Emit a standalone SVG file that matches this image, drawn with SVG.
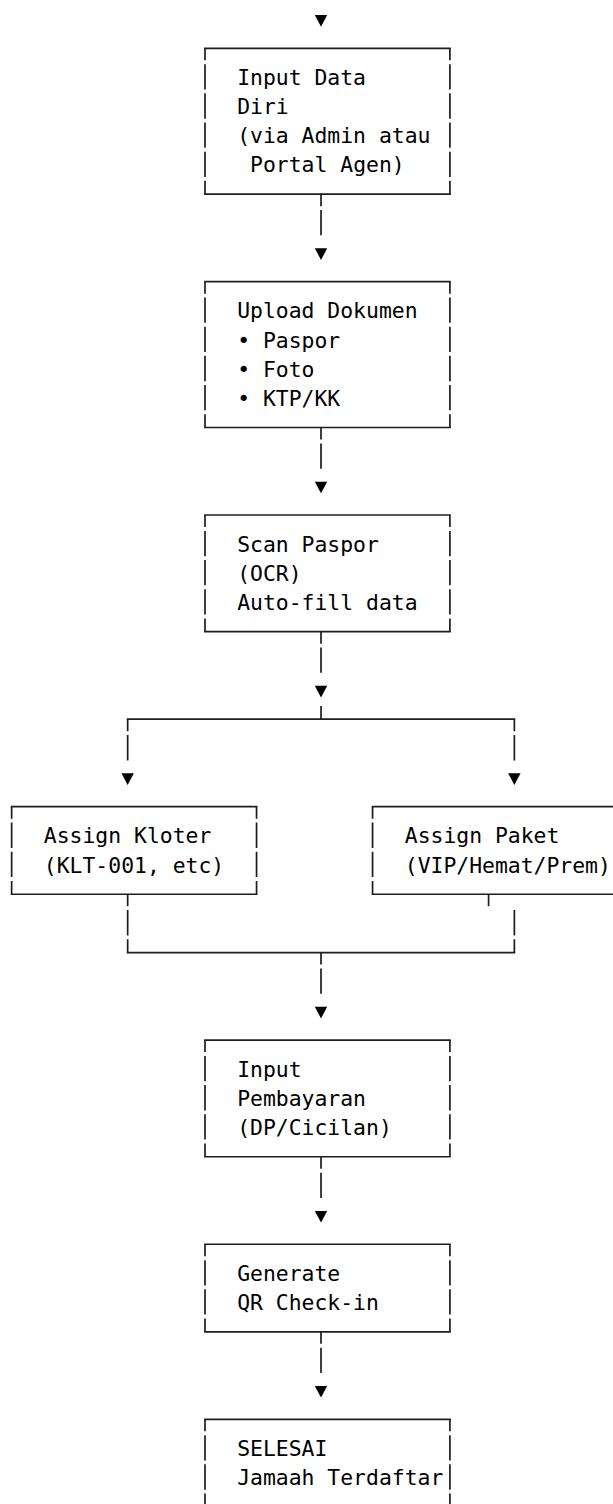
<svg xmlns="http://www.w3.org/2000/svg" xmlns:xlink="http://www.w3.org/1999/xlink" width="613" height="1504" viewBox="0 0 613 1504">
<style>
.ln{stroke:#1e1e1e;stroke-width:1.7;fill:none;stroke-linecap:square}
.st{stroke:#1e1e1e;stroke-width:1.7;fill:none}
.ds{stroke:#1e1e1e;stroke-width:1.7;fill:none;stroke-dasharray:25.3 3.87;stroke-dashoffset:13.3}
.ds0{stroke:#1e1e1e;stroke-width:1.7;fill:none;stroke-dasharray:25.3 3.87}
.ar{fill:#000}
text{font-family:"DejaVu Sans Mono",monospace;font-size:21.4px;fill:#000}
</style>
<defs>
<path id="tri" d="M -6.2,-4.2 H 6.2 L 0,7.5 Z"/>
</defs>
<rect width="613" height="1504" fill="#fff"/>

<g id="connectors">
<use href="#tri" class="ar" x="321.01" y="19.13"/>
<line class="ds" x1="321.01" y1="194.15" x2="321.01" y2="235.32"/>
<use href="#tri" class="ar" x="321.01" y="252.49"/>
<line class="ds" x1="321.01" y1="427.51" x2="321.01" y2="468.68"/>
<use href="#tri" class="ar" x="321.01" y="485.85"/>
<line class="ds" x1="321.01" y1="631.70" x2="321.01" y2="672.87"/>
<use href="#tri" class="ar" x="321.01" y="690.04"/>
<line class="st" x1="321.01" y1="705.91" x2="321.01" y2="719.21"/>
<path class="ln" d="M127.66,719.21 H514.36"/>
<line class="ds" x1="127.66" y1="719.21" x2="127.66" y2="760.38"/>
<line class="ds" x1="514.36" y1="719.21" x2="514.36" y2="760.38"/>
<use href="#tri" class="ar" x="127.66" y="777.55"/>
<use href="#tri" class="ar" x="514.36" y="777.55"/>
<line class="ds" x1="127.66" y1="894.23" x2="127.66" y2="952.57"/>
<line class="ds0" x1="514.36" y1="910.10" x2="514.36" y2="952.57"/>
<line class="st" x1="488.58" y1="894.23" x2="488.58" y2="906.23"/>
<path class="ln" d="M127.66,952.57 H514.36"/>
<line class="ds" x1="321.01" y1="952.57" x2="321.01" y2="993.74"/>
<use href="#tri" class="ar" x="321.01" y="1010.91"/>
<line class="ds" x1="321.01" y1="1156.76" x2="321.01" y2="1197.93"/>
<use href="#tri" class="ar" x="321.01" y="1215.10"/>
<line class="ds" x1="321.01" y1="1331.78" x2="321.01" y2="1372.95"/>
<use href="#tri" class="ar" x="321.01" y="1390.12"/>
</g>

<g id="input-data-diri">
<path class="ln" d="M205,48.30 H449.91 M205,194.15 H449.91"/>
<line class="ds" x1="205" y1="48.30" x2="205" y2="194.15"/>
<line class="ds" x1="449.91" y1="48.30" x2="449.91" y2="194.15"/>
<text x="237.22" y="84.97">Input Data</text>
<text x="237.22" y="114.14">Diri</text>
<text x="237.22" y="143.31">(via Admin atau</text>
<text x="250.11" y="172.48">Portal Agen)</text>
</g>

<g id="upload-dokumen">
<path class="ln" d="M205,281.66 H449.91 M205,427.51 H449.91"/>
<line class="ds" x1="205" y1="281.66" x2="205" y2="427.51"/>
<line class="ds" x1="449.91" y1="281.66" x2="449.91" y2="427.51"/>
<text x="237.22" y="318.33">Upload Dokumen</text>
<text x="237.22" y="347.50">• Paspor</text>
<text x="237.22" y="376.67">• Foto</text>
<text x="237.22" y="405.84">• KTP/KK</text>
</g>

<g id="scan-paspor">
<path class="ln" d="M205,515.02 H449.91 M205,631.70 H449.91"/>
<line class="ds" x1="205" y1="515.02" x2="205" y2="631.70"/>
<line class="ds" x1="449.91" y1="515.02" x2="449.91" y2="631.70"/>
<text x="237.22" y="551.69">Scan Paspor</text>
<text x="237.22" y="580.86">(OCR)</text>
<text x="237.22" y="610.03">Auto-fill data</text>
</g>

<g id="assign-kloter">
<path class="ln" d="M11.65,806.72 H256.56 M11.65,894.23 H256.56"/>
<line class="ds" x1="11.65" y1="806.72" x2="11.65" y2="894.23"/>
<line class="ds" x1="256.56" y1="806.72" x2="256.56" y2="894.23"/>
<text x="43.87" y="843.39">Assign Kloter</text>
<text x="43.87" y="872.56">(KLT-001, etc)</text>
</g>

<g id="assign-paket">
<path class="ln" d="M372.57,806.72 H630.37 M372.57,894.23 H630.37"/>
<line class="ds" x1="372.57" y1="806.72" x2="372.57" y2="894.23"/>
<line class="ds" x1="630.37" y1="806.72" x2="630.37" y2="894.23"/>
<text x="404.79" y="843.39">Assign Paket</text>
<text x="404.79" y="872.56">(VIP/Hemat/Prem)</text>
</g>

<g id="input-pembayaran">
<path class="ln" d="M205,1040.08 H449.91 M205,1156.76 H449.91"/>
<line class="ds" x1="205" y1="1040.08" x2="205" y2="1156.76"/>
<line class="ds" x1="449.91" y1="1040.08" x2="449.91" y2="1156.76"/>
<text x="237.22" y="1076.75">Input</text>
<text x="237.22" y="1105.92">Pembayaran</text>
<text x="237.22" y="1135.09">(DP/Cicilan)</text>
</g>

<g id="generate-qr">
<path class="ln" d="M205,1244.27 H449.91 M205,1331.78 H449.91"/>
<line class="ds" x1="205" y1="1244.27" x2="205" y2="1331.78"/>
<line class="ds" x1="449.91" y1="1244.27" x2="449.91" y2="1331.78"/>
<text x="237.22" y="1280.94">Generate</text>
<text x="237.22" y="1310.11">QR Check-in</text>
</g>

<g id="selesai">
<path class="ln" d="M205,1419.29 H449.91"/>
<line class="ds" x1="205" y1="1419.29" x2="205" y2="1530"/>
<line class="ds" x1="449.91" y1="1419.29" x2="449.91" y2="1530"/>
<text x="237.22" y="1455.96">SELESAI</text>
<text x="237.22" y="1485.13">Jamaah Terdaftar</text>
</g>
</svg>
